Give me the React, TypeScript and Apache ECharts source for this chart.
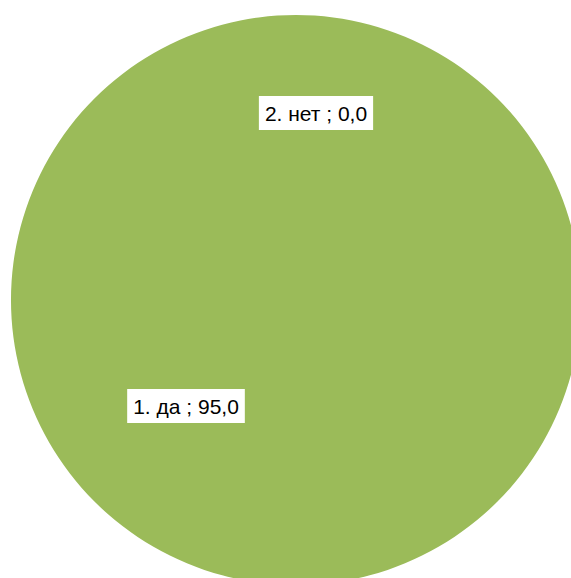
import React, { useEffect, useRef } from "react";
import * as echarts from "echarts";

const categories = ["1. да", "2. нет"];
const values = [95.0, 0.0];

const labelPos: Record<number, [number, number]> = {
  0: [186, 406],
  1: [316, 113],
};

export default function App() {
  const ref = useRef<HTMLDivElement>(null);
  useEffect(() => {
    if (!ref.current) return;
    const chart = echarts.init(ref.current, null, { renderer: "svg" });
    chart.setOption({
      animation: false,
      backgroundColor: "#ffffff",
      series: [
        {
          type: "pie",
          center: [296, 300],
          radius: 285,
          startAngle: 90,
          clockwise: true,
          avoidLabelOverlap: false,
          silent: true,
          itemStyle: { color: "#9BBB59", borderWidth: 0 },
          label: {
            show: true,
            position: "inside",
            formatter: (p: any) =>
              `${p.name} ; ${Number(p.value).toFixed(1).replace(".", ",")}`,
            fontFamily: "Liberation Sans, Arial, sans-serif",
            fontSize: 21,
            color: "#000000",
            backgroundColor: "#ffffff",
            padding: [7, 6, 6, 6],
          },
          labelLine: { show: false },
          labelLayout: (params: any) => {
            const pos = labelPos[params.dataIndex];
            return { x: pos[0], y: pos[1], align: "center", verticalAlign: "middle" };
          },
          data: categories.map((c, i) => ({ name: c, value: values[i] })),
        },
      ],
    });
    return () => chart.dispose();
  }, []);
  return (
    <div
      ref={ref}
      style={{ position: "fixed", left: 0, top: 0, width: 571, height: 578 }}
    />
  );
}
